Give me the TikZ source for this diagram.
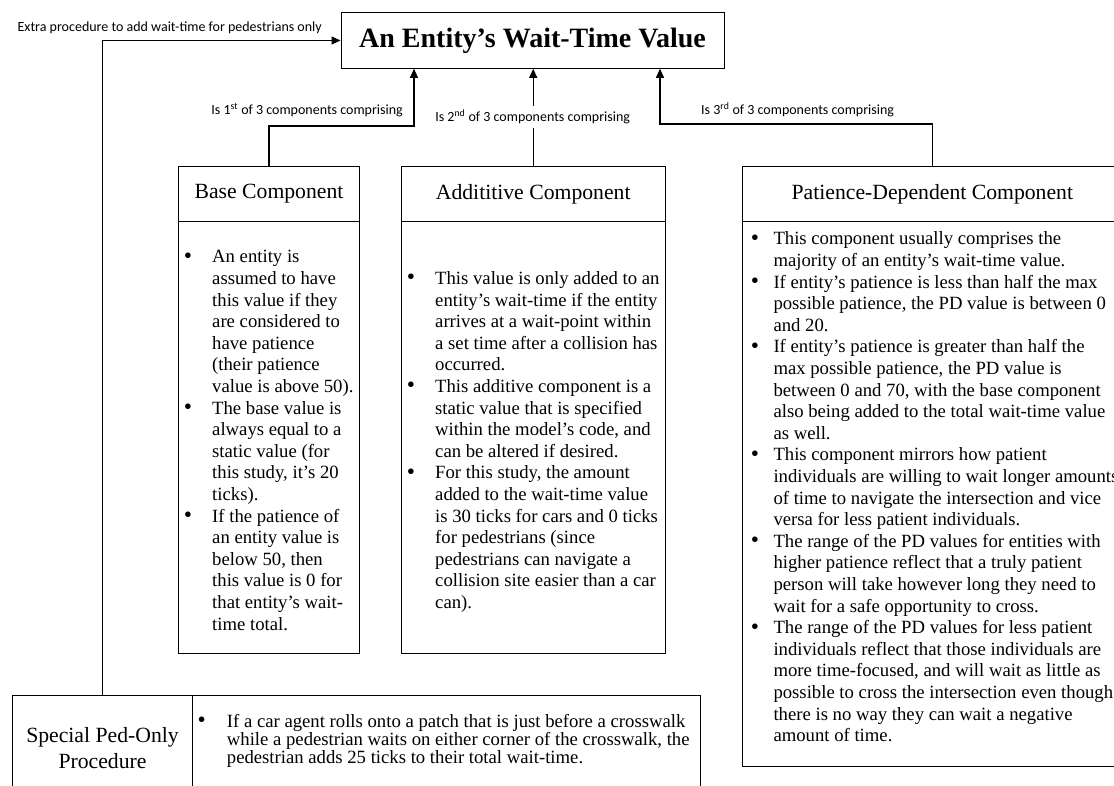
\documentclass[tikz,border=0pt]{standalone}
\usepackage{fontspec}
\setmainfont{Liberation Serif}
\newfontfamily\lblfont{Carlito}
\usetikzlibrary{arrows.meta}
\newcommand\bul[1]{\llap{\raisebox{-0.3pt}{\scalebox{1.25}{\textbullet}}\hspace{#1pt}}}
\begin{document}
\begin{tikzpicture}[x=1pt,y=-1pt,
  frame/.style={draw, line width=1pt, inner sep=0pt, anchor=north west},
  hdr/.style={frame, font=\fontsize{21.7}{26}\selectfont, minimum height=55.3pt},
  txt/.style={inner sep=0pt, anchor=base west, font=\fontsize{18.7}{21.6}\selectfont},
  lbl/.style={inner sep=0pt, font=\lblfont\fontsize{14}{16}\selectfont},
  conn/.style={line width=1.1pt, -{Triangle[length=9pt,width=8pt]}}]
\useasboundingbox (0,0) rectangle (1114,786);
\clip (0,0) rectangle (1114,786);

% title
\node[frame, anchor=center, minimum width=383pt, minimum height=55.6pt,
      font=\bfseries\fontsize{28}{32}\selectfont] (title) at (532.5,40.5) {An Entity’s Wait-Time Value};

% component boxes
\node[hdr, minimum width=181pt] (baseh) at (178,165.7) {Base Component};
\node[frame, minimum width=181pt, minimum height=432.3pt] (baseb) at (178,221) {};
\node[hdr, minimum width=264pt] (addh) at (400.7,165.7) {Addititive Component};
\node[frame, minimum width=264pt, minimum height=432.3pt] (addb) at (400.7,221) {};
\node[hdr, minimum width=380.3pt] (pdh) at (741.7,165.7) {Patience-Dependent Component};
\node[frame, minimum width=380.3pt, minimum height=545pt] (pdb) at (741.7,221) {};

% special ped-only procedure
\node[frame, minimum width=180.6pt, minimum height=105pt, align=center,
      font=\fontsize{21.7}{26}\selectfont] (pedh) at (11.7,695) {Special Ped-Only\\Procedure};
\node[frame, minimum width=507.7pt, minimum height=105pt] (pedb) at (192.3,695) {};

% body texts
\node[txt] (basetxt) at (212,263) {\begin{tabular}[t]{@{}l@{}}
\bul{20.2}An entity is\\
assumed to have\\
this value if they\\
are considered to\\
have patience\\
(their patience\\
value is above 50).\\
\bul{20.2}The base value is\\
always equal to a\\
static value (for\\
this study, it’s 20\\
ticks).\\
\bul{20.2}If the patience of\\
an entity value is\\
below 50, then\\
this value is 0 for\\
that entity’s wait-\\
time total.
\end{tabular}};

\node[txt] (addtxt) at (435,284.6) {\begin{tabular}[t]{@{}l@{}}
\bul{20.2}This value is only added to an\\
entity’s wait-time if the entity\\
arrives at a wait-point within\\
a set time after a collision has\\
occurred.\\
\bul{20.2}This additive component is a\\
static value that is specified\\
within the model’s code, and\\
can be altered if desired.\\
\bul{20.2}For this study, the amount\\
added to the wait-time value\\
is 30 ticks for cars and 0 ticks\\
for pedestrians (since\\
pedestrians can navigate a\\
collision site easier than a car\\
can).
\end{tabular}};

\node[txt] (pdtxt) at (773.3,245) {\begin{tabular}[t]{@{}l@{}}
\bul{14.5}This component usually comprises the\\
majority of an entity’s wait-time value.\\
\bul{14.5}If entity’s patience is less than half the max\\
possible patience, the PD value is between 0\\
and 20.\\
\bul{14.5}If entity’s patience is greater than half the\\
max possible patience, the PD value is\\
between 0 and 70, with the base component\\
also being added to the total wait-time value\\
as well.\\
\bul{14.5}This component mirrors how patient\\
individuals are willing to wait longer amounts\\
of time to navigate the intersection and vice\\
versa for less patient individuals.\\
\bul{14.5}The range of the PD values for entities with\\
higher patience reflect that a truly patient\\
person will take however long they need to\\
wait for a safe opportunity to cross.\\
\bul{14.5}The range of the PD values for less patient\\
individuals reflect that those individuals are\\
more time-focused, and will wait as little as\\
possible to cross the intersection even though\\
there is no way they can wait a negative\\
amount of time.
\end{tabular}};

\node[txt, font=\fontsize{18.7}{18}\selectfont] (pedtxt) at (226.7,727) {\begin{tabular}[t]{@{}l@{}}
\bul{21.2}If a car agent rolls onto a patch that is just before a crosswalk\\
while a pedestrian waits on either corner of the crosswalk, the\\
pedestrian adds 25 ticks to their total wait-time.
\end{tabular}};

% connectors
\coordinate (e1) at (414,126);
\coordinate (e3) at (660,124);
\draw[conn] (baseh.north) |- (e1) -- (e1 |- title.south);
\draw[conn] (addh.north) -- (addh.north |- title.south);
\draw[conn] (pdh.north) |- (e3) -- (e3 |- title.south);
\draw[conn] (pedh.north) |- (title.west);

% labels
\node[lbl, anchor=east] (l0) at (322,28) {Extra procedure to add wait-time for pedestrians only};
\node[lbl, anchor=east] (l1) at (403,110) {Is 1\textsuperscript{st} of 3 components comprising};
\node[lbl, fill=white, inner xsep=2pt, inner ysep=4pt] (l2) at (532.7,117) {Is 2\textsuperscript{nd} of 3 components comprising};
\node[lbl, anchor=west] (l3) at (701,110) {Is 3\textsuperscript{rd} of 3 components comprising};
\end{tikzpicture}
\end{document}
